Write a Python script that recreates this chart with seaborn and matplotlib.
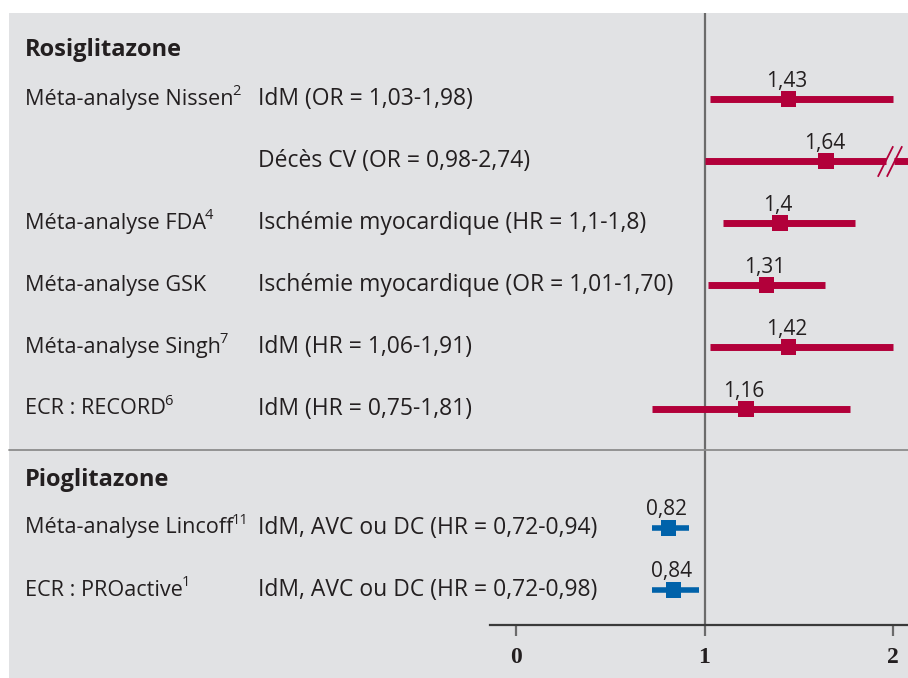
import matplotlib
matplotlib.use("Agg")
import matplotlib.pyplot as plt
from matplotlib.patches import Rectangle
from matplotlib.lines import Line2D
import matplotlib.transforms as mtransforms
import seaborn as sns
import pandas as pd

# --- Data ---
groups = ["Rosiglitazone", "Pioglitazone"]
studies = ["Méta-analyse Nissen", "", "Méta-analyse FDA", "Méta-analyse GSK",
           "Méta-analyse Singh", "ECR : RECORD", "Méta-analyse Lincoff",
           "ECR : PROactive"]
refs = ["2", "", "4", "", "7", "6", "11", "1"]
outcomes = ["IdM (OR = 1,03-1,98)", "Décès CV (OR = 0,98-2,74)",
            "Ischémie myocardique (HR = 1,1-1,8)",
            "Ischémie myocardique (OR = 1,01-1,70)",
            "IdM (HR = 1,06-1,91)", "IdM (HR = 0,75-1,81)",
            "IdM, AVC ou DC (HR = 0,72-0,94)", "IdM, AVC ou DC (HR = 0,72-0,98)"]
drug = ["Rosiglitazone"] * 6 + ["Pioglitazone"] * 2
estimate = [1.43, 1.64, 1.40, 1.31, 1.42, 1.16, 0.82, 0.84]
est_drawn = [1.445, 1.645, 1.40, 1.33, 1.445, 1.22, 0.81, 0.835]
ci_low = [1.03, 1.00, 1.10, 1.02, 1.03, 0.72, 0.72, 0.72]
ci_high = [2.00, 2.74, 1.80, 1.64, 2.00, 1.77, 0.92, 0.97]
xticks = [0, 1, 2]

# --- Style ---
BG = "#e1e2e4"
RED = "#b2003a"
BLUE = "#0062aa"
TXT = "#231f20"
W, H = 908, 678

sns.set_theme(style="white")
plt.rcParams["font.family"] = ["Open Sans", "DejaVu Sans"]

# row layout (y in pixel units from the top)
row_y = [99 + 62 * i for i in range(6)] + [528 + 62 * i for i in range(2)]
header_y = [50, 480]
sep_y = 450

df = pd.DataFrame({"drug": drug, "est": est_drawn, "lo": ci_low,
                   "hi": ci_high, "y": row_y, "label": estimate})


def px(x):
    return x / W


fig = plt.figure(figsize=(W / 100, H / 100), dpi=100)
fig.patch.set_facecolor("white")
fig.add_artist(Rectangle((px(9), 0), 1 - px(9), 1 - 13 / H,
                         transform=fig.transFigure, facecolor=BG,
                         edgecolor="none", zorder=0))

ax_l, ax_r = 490, W
axis_px = 625
ax = fig.add_axes([px(ax_l), (H - axis_px) / H, px(ax_r - ax_l),
                   (axis_px - 13) / H])
ax.set_facecolor("none")

# data x mapping: 0 -> px 516, 1 -> px 705
unit = 188.5
ax.set_xlim((ax_l - 516) / unit, (ax_r - 516) / unit)
ax.set_ylim(axis_px, 13)

xmax = ax.get_xlim()[1]
colors = {"Rosiglitazone": RED, "Pioglitazone": BLUE}

# reference line at 1
ax.axvline(1, color="#6b6b6b", lw=1.6, zorder=1)

# CI lines
for _, r in df.iterrows():
    c = colors[r["drug"]]
    lw = 5.0 if r["drug"] == "Rosiglitazone" else 4.0
    if r["hi"] > xmax:
        brk = 1.98
        ax.hlines(r["y"], r["lo"], brk - 0.015, color=c, lw=lw, zorder=2)
        ax.hlines(r["y"], brk + 0.025, r["hi"], color=c, lw=lw, zorder=2)
        ax.plot([brk - 0.02, brk + 0.025], [r["y"], r["y"]], ls="none",
                marker=[(-0.5, -1), (0.5, 1)], ms=22, mew=1.3, color=c,
                zorder=3, clip_on=False)
    else:
        ax.hlines(r["y"], r["lo"], r["hi"], color=c, lw=lw, zorder=2)
    ax.text(r["est"] - 0.01, r["y"] - 18, f"{r['label']:g}".replace(".", ","),
            ha="center", va="center", fontsize=15, color=TXT)

sns.scatterplot(data=df, x="est", y="y", hue="drug", palette=colors,
                marker="s", s=120, linewidth=0, legend=False, zorder=4, ax=ax)

# left text columns
tr = mtransforms.blended_transform_factory(fig.transFigure, ax.transData)
for g, hy in zip(groups, header_y):
    ax.text(px(25), hy, g, transform=tr, fontsize=17, fontweight="bold",
            color=TXT, va="center", ha="left", clip_on=False)
for s, sup, o, y in zip(studies, refs, outcomes, row_y):
    if s:
        t = ax.text(px(25), y, s, transform=tr, fontsize=15.6, color=TXT,
                    va="center", ha="left", clip_on=False)
        if sup:
            ax.annotate(sup, xy=(1, 0.5), xycoords=t, xytext=(-1.2, 0.3),
                        textcoords="offset points", fontsize=10.5,
                        color=TXT, va="bottom", ha="left",
                        annotation_clip=False)
    ax.text(px(258), y, o, transform=tr, fontsize=16.5, color=TXT,
            va="center", ha="left", clip_on=False)

# separator line across the whole panel
fig.add_artist(Line2D([px(9), 1], [(H - sep_y) / H] * 2,
                      transform=fig.transFigure, color="#8c8c8c", lw=1.3))

# axis
for side in ["top", "left", "right"]:
    ax.spines[side].set_visible(False)
ax.spines["bottom"].set_color("#3a3a3a")
ax.spines["bottom"].set_linewidth(1.6)
ax.set_yticks([])
ax.set_xticks(xticks)
ax.set_xticklabels([str(t) for t in xticks], fontsize=17, fontweight="bold",
                   family="Liberation Serif", color=TXT)
ax.tick_params(axis="x", direction="out", length=8, width=1.6,
               colors="#6b6b6b", labelcolor=TXT, pad=8, bottom=True)
ax.get_xticklines()[2].set_color("#111111")
ax.set_xlabel("")
ax.set_ylabel("")

fig.savefig("out.png", dpi=100)
